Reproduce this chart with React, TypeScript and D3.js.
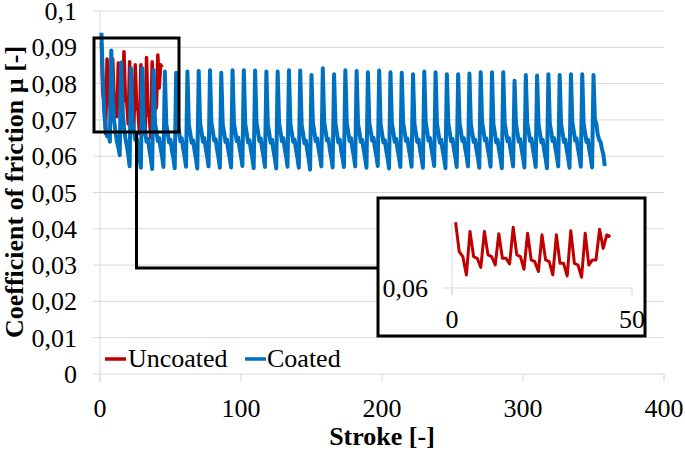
import React from 'react';
import * as d3 from 'd3';

// ---- data ----
const yTicks = [0, 0.01, 0.02, 0.03, 0.04, 0.05, 0.06, 0.07, 0.08, 0.09, 0.1];
const yTickLabels = ['0', '0,01', '0,02', '0,03', '0,04', '0,05', '0,06', '0,07', '0,08', '0,09', '0,1'];
const xTicks = [0, 100, 200, 300, 400];
const xTickLabels = ['0', '100', '200', '300', '400'];
const insetXTicks = [0, 50];
const insetXTickLabels = ['0', '50'];
const insetYTicks = [0.06];
const insetYTickLabels = ['0,06'];
const seriesNames = ['Uncoated', 'Coated'];

// Uncoated: strokes 1..44
const uncoatedMu = [
  0.0912, 0.0773, 0.0749, 0.0662, 0.0868, 0.0749, 0.0741, 0.0698, 0.0868, 0.0757,
  0.0749, 0.0709, 0.0857, 0.0741, 0.0741, 0.0714, 0.0888, 0.0757, 0.0749, 0.0689,
  0.0860, 0.0733, 0.0725, 0.0678, 0.0852, 0.0733, 0.0725, 0.0662, 0.0852, 0.0717,
  0.0717, 0.0657, 0.0872, 0.0717, 0.0709, 0.0651, 0.0860, 0.0709, 0.0733, 0.0733,
  0.0879, 0.0788, 0.0852, 0.0844,
];

// Coated: strokes 1..358
const coatedMu = [
  0.0940, 0.0815, 0.0720, 0.0675, 0.0655, 0.0665, 0.0640,
  0.0891, 0.0770, 0.0700, 0.0665, 0.0640, 0.0625, 0.0603,
  0.0858, 0.0725, 0.0680, 0.0650, 0.0630, 0.0605, 0.0572,
  0.0842, 0.0700, 0.0672, 0.0645, 0.0650, 0.0620, 0.0598, 0.0568,
  0.0842, 0.0695, 0.0670, 0.0640, 0.0648, 0.0618, 0.0595, 0.0565,
  0.0837, 0.0692, 0.0668, 0.0642, 0.0650, 0.0622, 0.0600, 0.0570,
  0.0833, 0.0690, 0.0665, 0.0638, 0.0645, 0.0615, 0.0596, 0.0567,
  0.0830, 0.0693, 0.0670, 0.0641, 0.0649, 0.0620, 0.0598, 0.0571,
  0.0833, 0.0688, 0.0664, 0.0637, 0.0644, 0.0617, 0.0594, 0.0566,
  0.0835, 0.0691, 0.0668, 0.0640, 0.0650, 0.0621, 0.0599, 0.0572,
  0.0837, 0.0694, 0.0669, 0.0643, 0.0647, 0.0619, 0.0597, 0.0568,
  0.0830, 0.0689, 0.0666, 0.0639, 0.0646, 0.0616, 0.0595, 0.0569,
  0.0837, 0.0692, 0.0667, 0.0641, 0.0651, 0.0622, 0.0600, 0.0573,
  0.0837, 0.0690, 0.0665, 0.0638, 0.0644, 0.0618, 0.0596, 0.0567,
  0.0836, 0.0693, 0.0669, 0.0642, 0.0649, 0.0620, 0.0598, 0.0570,
  0.0833, 0.0689, 0.0664, 0.0637, 0.0645, 0.0616, 0.0594, 0.0566,
  0.0833, 0.0692, 0.0668, 0.0641, 0.0650, 0.0621, 0.0599, 0.0571,
  0.0837, 0.0690, 0.0666, 0.0640, 0.0646, 0.0618, 0.0596, 0.0568,
  0.0836, 0.0688, 0.0663, 0.0636, 0.0643, 0.0615, 0.0593, 0.0563,
  0.0824, 0.0691, 0.0667, 0.0641, 0.0649, 0.0620, 0.0599, 0.0572,
  0.0842, 0.0694, 0.0669, 0.0643, 0.0648, 0.0619, 0.0597, 0.0569,
  0.0826, 0.0689, 0.0665, 0.0638, 0.0646, 0.0617, 0.0595, 0.0570,
  0.0837, 0.0692, 0.0668, 0.0642, 0.0650, 0.0621, 0.0600, 0.0572,
  0.0835, 0.0690, 0.0666, 0.0639, 0.0645, 0.0618, 0.0596, 0.0568,
  0.0831, 0.0693, 0.0669, 0.0643, 0.0651, 0.0622, 0.0601, 0.0573,
  0.0836, 0.0689, 0.0664, 0.0638, 0.0644, 0.0616, 0.0594, 0.0566,
  0.0831, 0.0691, 0.0667, 0.0640, 0.0648, 0.0619, 0.0598, 0.0570,
  0.0830, 0.0692, 0.0668, 0.0642, 0.0649, 0.0621, 0.0599, 0.0571,
  0.0826, 0.0690, 0.0665, 0.0639, 0.0646, 0.0617, 0.0596, 0.0568,
  0.0833, 0.0693, 0.0669, 0.0643, 0.0650, 0.0622, 0.0600, 0.0573,
  0.0831, 0.0689, 0.0664, 0.0637, 0.0645, 0.0616, 0.0595, 0.0567,
  0.0826, 0.0691, 0.0667, 0.0641, 0.0648, 0.0620, 0.0598, 0.0570,
  0.0826, 0.0692, 0.0668, 0.0642, 0.0650, 0.0621, 0.0600, 0.0572,
  0.0828, 0.0690, 0.0665, 0.0639, 0.0646, 0.0618, 0.0596, 0.0568,
  0.0831, 0.0693, 0.0669, 0.0643, 0.0649, 0.0620, 0.0599, 0.0571,
  0.0831, 0.0689, 0.0665, 0.0638, 0.0645, 0.0617, 0.0595, 0.0567,
  0.0831, 0.0691, 0.0667, 0.0641, 0.0650, 0.0621, 0.0600, 0.0572,
  0.0808, 0.0690, 0.0666, 0.0640, 0.0647, 0.0619, 0.0597, 0.0569,
  0.0824, 0.0692, 0.0668, 0.0642, 0.0649, 0.0620, 0.0598, 0.0570,
  0.0822, 0.0689, 0.0664, 0.0638, 0.0645, 0.0616, 0.0595, 0.0567,
  0.0826, 0.0691, 0.0667, 0.0641, 0.0650, 0.0621, 0.0600, 0.0572,
  0.0824, 0.0690, 0.0666, 0.0639, 0.0646, 0.0618, 0.0596, 0.0568,
  0.0826, 0.0693, 0.0669, 0.0643, 0.0649, 0.0620, 0.0599, 0.0571,
  0.0826, 0.0690, 0.0665, 0.0639, 0.0646, 0.0618, 0.0596, 0.0569,
  0.0824, 0.0700, 0.0690, 0.0660, 0.0645, 0.0640, 0.0620, 0.0605, 0.0573,
];

const RED = '#C00000';
const BLUE = '#0070C0';
const GRID = '#D9D9D9';
const FONT = "'Liberation Serif', 'DejaVu Serif', serif";

export default function App() {
  const W = 685;
  const H = 451;
  const x = d3.scaleLinear().domain([0, 400]).range([100, 664]);
  const y = d3.scaleLinear().domain([0, 0.1]).range([374, 11]);

  const ix = d3.scaleLinear().domain([0, 50]).range([452, 632]);
  const iy = d3.scaleLinear().domain([0.06, 0.0913]).range([288, 222]);

  const line = d3
    .line<number>()
    .x((_, i) => x(i + 1))
    .y((d) => y(d));
  const insetLine = d3
    .line<number>()
    .x((_, i) => ix(i + 1))
    .y((d) => iy(d));

  const zx0 = x.invert(94), zx1 = x.invert(179);
  const zy0 = y.invert(38), zy1 = y.invert(132);
  const bigL = 378, bigT = 198, bigR = 645, bigB = 336;
  const connX = x((zx0 + zx1) / 2);
  const connY = 268;

  const txt = { fontFamily: FONT };

  return (
    <svg
      width={W}
      height={H}
      style={{ position: 'absolute', left: 0, top: 0, background: '#fff', fontFamily: FONT }}
    >
      <rect x={0} y={0} width={W} height={H} fill="#fff" />
      {yTicks.map((t) => (
        <line key={'g' + t} x1={93} x2={x(400)} y1={y(t)} y2={y(t)} stroke={GRID} strokeWidth={1} />
      ))}
      <line x1={x(0)} x2={x(0)} y1={y(0.1)} y2={y(0) + 8} stroke={GRID} strokeWidth={1} />
      {xTicks.map((t) => (
        <line key={'xt' + t} x1={x(t)} x2={x(t)} y1={y(0)} y2={y(0) + 8} stroke={GRID} strokeWidth={1} />
      ))}
      {yTicks.map((t, i) => (
        <text key={'yl' + t} x={77} y={y(t) + 9} textAnchor="end" fontSize={26} fill="#000" style={txt}>
          {yTickLabels[i]}
        </text>
      ))}
      {xTicks.map((t, i) => (
        <text key={'xl' + t} x={x(t)} y={417} textAnchor="middle" fontSize={26} fill="#000" style={txt}>
          {xTickLabels[i]}
        </text>
      ))}
      <path d={line(uncoatedMu) || ''} fill="none" stroke={RED} strokeWidth={3.5} strokeLinejoin="round" />
      <path d={line(coatedMu) || ''} fill="none" stroke={BLUE} strokeWidth={4} strokeLinejoin="round" />

      <rect
        x={x(zx0)}
        y={y(zy0)}
        width={x(zx1) - x(zx0)}
        height={y(zy1) - y(zy0)}
        fill="none"
        stroke="#000"
        strokeWidth={3}
      />
      <polyline
        points={`${connX},${y(zy1)} ${connX},${connY} ${bigL},${connY}`}
        fill="none"
        stroke="#000"
        strokeWidth={3}
      />
      <rect x={bigL} y={bigT} width={bigR - bigL} height={bigB - bigT} fill="#fff" stroke="#000" strokeWidth={3} />
      {insetYTicks.map((t) => (
        <line key={'ig' + t} x1={443} x2={ix(50)} y1={iy(t)} y2={iy(t)} stroke={GRID} strokeWidth={1} />
      ))}
      <line x1={ix(0)} x2={ix(0)} y1={iy(0.0913)} y2={iy(0.06) + 7} stroke={GRID} strokeWidth={1} />
      {insetXTicks.map((t) => (
        <line key={'ixt' + t} x1={ix(t)} x2={ix(t)} y1={iy(0.06)} y2={iy(0.06) + 7} stroke={GRID} strokeWidth={1} />
      ))}
      {insetYTicks.map((t, i) => (
        <text key={'iyl' + t} x={428} y={iy(t) + 9} textAnchor="end" fontSize={26} fill="#000" style={txt}>
          {insetYTickLabels[i]}
        </text>
      ))}
      {insetXTicks.map((t, i) => (
        <text key={'ixl' + t} x={ix(t)} y={328} textAnchor="middle" fontSize={26} fill="#000" style={txt}>
          {insetXTickLabels[i]}
        </text>
      ))}
      <path d={insetLine(uncoatedMu) || ''} fill="none" stroke={RED} strokeWidth={3} strokeLinejoin="round" />

      <line x1={105} x2={126} y1={359} y2={359} stroke={RED} strokeWidth={3.5} />
      <text x={128} y={367} fontSize={26} fill="#000" style={txt}>{seriesNames[0]}</text>
      <line x1={245} x2={266} y1={359} y2={359} stroke={BLUE} strokeWidth={3.5} />
      <text x={267} y={367} fontSize={26} fill="#000" style={txt}>{seriesNames[1]}</text>

      <text
        transform={`translate(23, 192) rotate(-90)`}
        textAnchor="middle"
        fontSize={26}
        fontWeight="bold"
        fill="#000"
        style={txt}
      >
        Coefficient of friction µ [-]
      </text>
      <text x={382} y={445} textAnchor="middle" fontSize={26} fontWeight="bold" fill="#000" style={txt}>
        Stroke [-]
      </text>
    </svg>
  );
}
